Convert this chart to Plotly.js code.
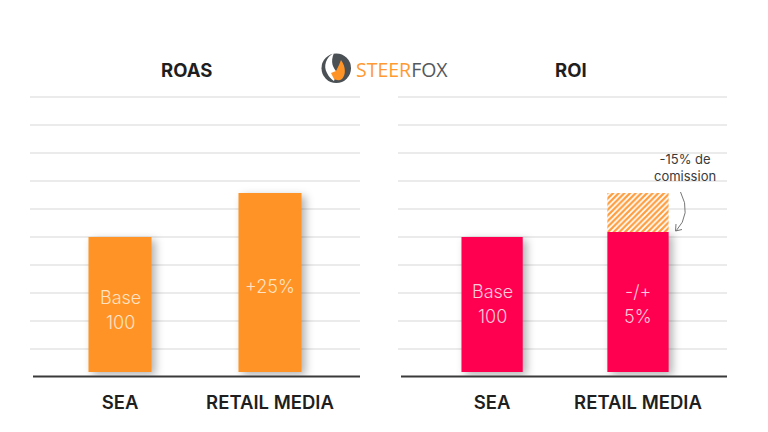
<!DOCTYPE html>
<html><head><meta charset="utf-8">
<script src="https://cdn.plot.ly/plotly-3.0.1.min.js"></script>
<style>
html,body{margin:0;padding:0;background:#fff}
#c{width:768px;height:432px}
.shadowed{filter:drop-shadow(4px 3px 4px rgba(0,0,0,.3))}
</style></head><body><div id="c"></div>
<script>
const categories = ['SEA', 'RETAIL MEDIA'];
const roasValues = [100, 131.4];
const roiValues = [100, 103.6];
const commissionTop = 131.4;
const barFloor = 3.5;
const gridStep = 20;
const ORANGE = '#ff9326', RED = '#ff0050', TXT = '#1f1f1f', W = 768, H = 432;
const FONT = 'Inter, Lato, sans-serif';
const px = x => x / W, py = y => 1 - y / H;

function barTrace(vals, color, xa, ya) {
  return {type:'bar', x:categories, y:vals.map(v=>v-barFloor), base:barFloor, width:0.42,
    marker:{color, line:{width:0}}, xaxis:xa, yaxis:ya, hoverinfo:'skip', showlegend:false};
}
const traces = [
  barTrace(roasValues, ORANGE, 'x', 'y'),
  barTrace(roiValues, RED, 'x2', 'y2'),
  {type:'bar', x:[categories[1]], y:[commissionTop-roiValues[1]], base:[roiValues[1]], width:0.42,
   marker:{color:'#fff', line:{width:0}, pattern:{shape:'/', fgcolor:'#ff9d3d', bgcolor:'#fff', size:4, solidity:0.55}},
   xaxis:'x2', yaxis:'y2', hoverinfo:'skip', showlegend:false}
];
function xAxis(d, r, anchor){return {domain:[px(d[0]),px(d[1])], range:r, type:'category', categoryorder:'array', categoryarray:categories,
  anchor, showgrid:false, showline:false, zeroline:false, ticks:'outside', ticklen:9, tickcolor:'rgba(0,0,0,0)',
  tickfont:{family:FONT,size:18.5,color:TXT,weight:600}, automargin:false};}
function yAxis(anchor){return {domain:[py(377),py(91.4)], range:[0,204], tick0:0, dtick:gridStep, anchor, showgrid:true, gridcolor:'#ebebeb', gridwidth:1.5,
  zeroline:false, showticklabels:false, ticks:'', showline:false, fixedrange:true};}
function note(text,xref,yref,x,y,size,color,extra){return Object.assign({text,xref,yref,x,y,showarrow:false,xanchor:'center',yanchor:'middle',font:{family:FONT,size,color,weight:300},align:'center'},extra||{});}
const LO='#ffe3c4', LR='#ffc9da';
const anns = [
  note('<b>ROAS</b>','paper','paper',px(186),py(70),18.5,TXT),
  note('<b>ROI</b>','paper','paper',px(571),py(70),18.5,TXT),
  note('Base','x','y',categories[0],57,18,LO),
  note('100','x','y',categories[0],39,18,LO),
  note('+25%','x','y',categories[1],65,18,LO),
  note('Base','x2','y2',categories[0],61,18,LR),
  note('100','x2','y2',categories[0],43,18,LR),
  note('-/+','x2','y2',categories[1],61,18,LR),
  note('5%','x2','y2',categories[1],43,18,LR),
  note('-15% de<br>comission','paper','paper',px(685),py(168),13,'#3a3a3a',{font:{family:FONT,size:13,color:'#3a3a3a',weight:400}}),
  note('<span style="color:#ff9a33">STEER</span><span style="color:#55595d">FOX</span>','paper','paper',px(402),py(69),19.5,'#55595d',{font:{family:'"Open Sans"',size:19.5,weight:400}})
];
const shapes = [
  {type:'line',xref:'paper',yref:'paper',x0:px(33),x1:px(360),y0:py(376.5),y1:py(376.5),line:{color:'#3a3a3a',width:2}},
  {type:'line',xref:'paper',yref:'paper',x0:px(401),x1:px(727),y0:py(376.5),y1:py(376.5),line:{color:'#3a3a3a',width:2}},
  {type:'path',xref:'paper',yref:'paper',path:`M ${px(680.5)} ${py(192)} Q ${px(692)} ${py(214)} ${px(676)} ${py(231)}`,line:{color:'#777',width:1}},
  {type:'path',xref:'paper',yref:'paper',path:`M ${px(676)} ${py(224)} L ${px(675.5)} ${py(231)} L ${px(682)} ${py(229.5)}`,line:{color:'#777',width:1}},
  {type:'circle',xref:'paper',yref:'paper',x0:px(321.5),x1:px(351),y0:py(53.5),y1:py(83),fillcolor:'#4b5054',line:{width:0}},
  {type:'path',xref:'paper',yref:'paper',fillcolor:'#fff',line:{width:0},path:`M ${px(334)} ${py(53)} C ${px(326)} ${py(57)} ${px(323)} ${py(66)} ${px(327)} ${py(73)} C ${px(329)} ${py(77)} ${px(331)} ${py(79)} ${px(334)} ${py(81)} L ${px(337)} ${py(72)} C ${px(333)} ${py(68)} ${px(330)} ${py(62)} ${px(334)} ${py(53)} Z`},
  {type:'path',xref:'paper',yref:'paper',fillcolor:ORANGE,line:{width:0},path:`M ${px(331)} ${py(73)} L ${px(336)} ${py(71)} L ${px(339)} ${py(65)} L ${px(341)} ${py(60)} C ${px(346)} ${py(67)} ${px(346)} ${py(75)} ${px(342)} ${py(79)} C ${px(339)} ${py(81)} ${px(336)} ${py(80)} ${px(334)} ${py(79)} Z`}
];
const layout = {width:W,height:H,margin:{l:0,r:0,t:0,b:0},paper_bgcolor:'#fff',plot_bgcolor:'#fff',barmode:'overlay',showlegend:false,
  xaxis:xAxis([30,360],[-0.6,1.6],'y'), yaxis:yAxis('x'),
  xaxis2:xAxis([398,727],[-0.645,1.61],'y2'), yaxis2:yAxis('x2'),
  annotations:anns, shapes};
Plotly.newPlot('c',traces,layout,{staticPlot:true}).then(()=>{
  document.querySelectorAll('.barlayer .trace').forEach((t,i)=>{ if(i<2) t.classList.add('shadowed'); });
});
</script></body></html>
